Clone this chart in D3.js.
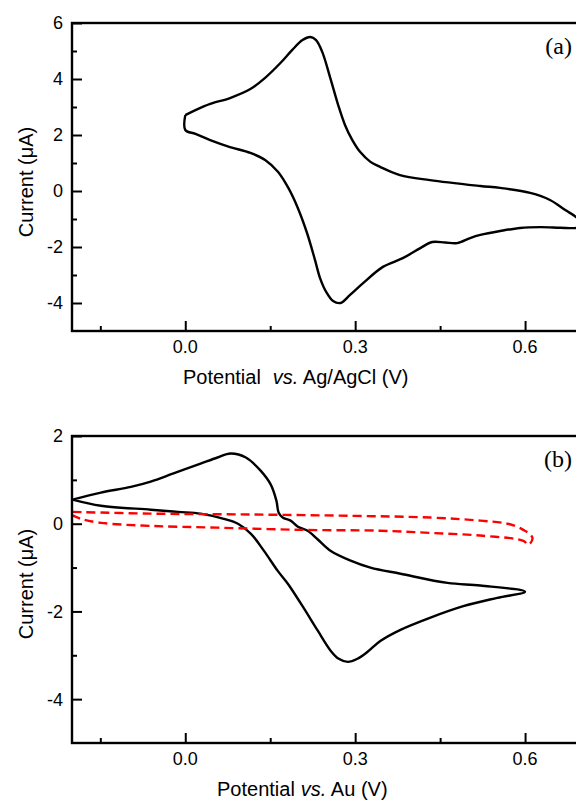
<!DOCTYPE html>
<html>
<head>
<meta charset="utf-8">
<script src="https://cdn.jsdelivr.net/npm/d3@7"></script>
<style>
  html, body { margin: 0; padding: 0; background: #fff; }
  svg { display: block; }
</style>
</head>
<body>
<div id="chart"></div>
<script>
// CV of panel (a): [potential V, current uA], in sweep order
const cvA = [
  [0.000, 2.71], [0.018, 2.89], [0.044, 3.11], [0.079, 3.32], [0.115, 3.64],
  [0.141, 4.04], [0.168, 4.57], [0.189, 5.04], [0.207, 5.39], [0.221, 5.50],
  [0.231, 5.39], [0.242, 4.96], [0.256, 4.04], [0.270, 3.07], [0.282, 2.36],
  [0.295, 1.82], [0.309, 1.39], [0.327, 1.04], [0.344, 0.86], [0.379, 0.57],
  [0.432, 0.39], [0.521, 0.18], [0.556, 0.11], [0.609, -0.07], [0.644, -0.32],
  [0.671, -0.68], [0.690, -0.93], [0.698, -1.10], [0.700, -1.25], [0.690, -1.32],
  [0.662, -1.31], [0.627, -1.29], [0.591, -1.32], [0.556, -1.43], [0.521, -1.57],
  [0.503, -1.68], [0.480, -1.86], [0.459, -1.84], [0.436, -1.82], [0.415, -2.04],
  [0.385, -2.39], [0.349, -2.71], [0.314, -3.29], [0.291, -3.71], [0.274, -4.00],
  [0.261, -3.93], [0.249, -3.61], [0.238, -3.11], [0.229, -2.46], [0.215, -1.50],
  [0.198, -0.57], [0.182, 0.11], [0.164, 0.68], [0.141, 1.11], [0.115, 1.36],
  [0.079, 1.57], [0.044, 1.82], [0.018, 2.04], [0.000, 2.18], [0.000, 2.71]
];

// CV of panel (b), solid black loop
const cvB = [
  [-0.199, 0.55], [-0.149, 0.71], [-0.096, 0.84], [-0.061, 0.96], [-0.022, 1.14],
  [0.027, 1.37], [0.057, 1.51], [0.080, 1.60], [0.107, 1.51], [0.133, 1.21],
  [0.151, 0.89], [0.161, 0.52], [0.165, 0.25], [0.172, 0.14], [0.186, 0.07],
  [0.199, -0.07], [0.216, -0.16], [0.234, -0.36], [0.257, -0.62], [0.292, -0.84],
  [0.327, -1.00], [0.380, -1.14], [0.463, -1.35], [0.521, -1.41], [0.600, -1.55],
  [0.551, -1.69], [0.491, -1.88], [0.433, -2.14], [0.380, -2.42], [0.345, -2.67],
  [0.322, -2.92], [0.304, -3.08], [0.287, -3.15], [0.271, -3.08], [0.257, -2.90],
  [0.234, -2.44], [0.209, -1.92], [0.186, -1.46], [0.177, -1.30], [0.163, -1.07],
  [0.139, -0.62], [0.116, -0.23], [0.093, 0.00], [0.068, 0.11], [0.027, 0.23],
  [-0.013, 0.27], [-0.061, 0.32], [-0.149, 0.41], [-0.199, 0.55]
];

// CV of panel (b), red dashed background
const bgB = [
  [-0.199, 0.27], [-0.061, 0.23], [0.116, 0.21], [0.292, 0.18], [0.433, 0.14],
  [0.521, 0.07], [0.569, 0.00], [0.597, -0.14], [0.613, -0.32], [0.606, -0.48],
  [0.597, -0.39], [0.521, -0.27], [0.433, -0.21], [0.345, -0.16], [0.204, -0.14],
  [0.057, -0.09], [-0.061, -0.05], [-0.149, 0.02], [-0.184, 0.11], [-0.199, 0.19]
];

const xMajor = [0.0, 0.3, 0.6];
const xMinor = [-0.15, 0.15, 0.45];
const yMajorA = [-4, -2, 0, 2, 4, 6];
const yMinorA = [-3, -1, 1, 3, 5];
const yMajorB = [-4, -2, 0, 2];
const yMinorB = [-3, -1, 1];

const width = 576, height = 803;
const sans = '"Liberation Sans", Arial, sans-serif';
const serif = '"Liberation Serif", "Times New Roman", serif';

const svg = d3.select('#chart')
  .append('svg')
  .attr('width', width)
  .attr('height', height);

function panel(opts) {
  const x = d3.scaleLinear().domain([-0.2, 0.7]).range([72, 581.7]);
  const y = d3.scaleLinear().domain(opts.yDomain).range([opts.bottom, opts.top]);
  const g = svg.append('g');

  const line = d3.line()
    .x(d => x(d[0]))
    .y(d => y(d[1]))
    .curve(d3.curveCatmullRom.alpha(0.5));

  opts.series.forEach(s => {
    g.append('path')
      .attr('d', line(s.data))
      .attr('fill', 'none')
      .attr('stroke', s.color)
      .attr('stroke-width', 2.4)
      .attr('stroke-dasharray', s.dash || null)
      .attr('stroke-linejoin', 'round');
  });

  // frame
  g.append('rect')
    .attr('x', x.range()[0])
    .attr('y', opts.top)
    .attr('width', x.range()[1] - x.range()[0])
    .attr('height', opts.bottom - opts.top)
    .attr('fill', 'none')
    .attr('stroke', '#000')
    .attr('stroke-width', 2.4);

  // inward ticks
  const xAxis = d3.axisTop(x).tickValues(xMajor).tickSize(10).tickFormat('');
  const xAxisMinor = d3.axisTop(x).tickValues(xMinor).tickSize(5).tickFormat('');
  const yAxis = d3.axisRight(y).tickValues(opts.yMajor).tickSize(10).tickFormat('');
  const yAxisMinor = d3.axisRight(y).tickValues(opts.yMinor).tickSize(5).tickFormat('');

  [[xAxis, `translate(0,${opts.bottom})`], [xAxisMinor, `translate(0,${opts.bottom})`],
   [yAxis, `translate(${x.range()[0]},0)`], [yAxisMinor, `translate(${x.range()[0]},0)`]]
    .forEach(([ax, tr]) => {
      const a = g.append('g').attr('transform', tr).call(ax);
      a.select('.domain').remove();
      a.selectAll('line').attr('stroke', '#000').attr('stroke-width', 2);
    });

  // tick labels
  g.selectAll('.xl')
    .data(xMajor)
    .join('text')
    .attr('x', d => x(d))
    .attr('y', opts.bottom + 22)
    .attr('text-anchor', 'middle')
    .style('font', `18px ${sans}`)
    .text(d3.format('.1f'));

  g.selectAll('.yl')
    .data(opts.yMajor)
    .join('text')
    .attr('x', 63)
    .attr('y', d => y(d))
    .attr('dy', '0.36em')
    .attr('text-anchor', 'end')
    .style('font', `18px ${sans}`)
    .text(d => d);

  // axis titles
  g.append('text')
    .attr('transform', `translate(33,${opts.yTitleY}) rotate(-90)`)
    .attr('text-anchor', 'middle')
    .style('font', `20px ${sans}`)
    .text('Current (μA)');

  const t = g.append('text')
    .attr('x', opts.xTitleX)
    .attr('y', opts.bottom + 53)
    .style('font', `20px ${sans}`);
  t.append('tspan').text('Potential');
  t.append('tspan').attr('dx', opts.gap).style('font-style', 'italic').text('vs.');
  t.append('tspan').text(' ' + opts.ref + ' (V)');

  g.append('text')
    .attr('x', 572)
    .attr('y', opts.top + 31)
    .attr('text-anchor', 'end')
    .style('font', `24px ${serif}`)
    .text(opts.tag);
}

panel({
  top: 23, bottom: 331, yDomain: [-5, 6],
  yMajor: yMajorA, yMinor: yMinorA,
  series: [{ data: cvA, color: '#000' }],
  yTitleY: 182, xTitleX: 183, gap: 12, ref: 'Ag/AgCl', tag: '(a)'
});

panel({
  top: 436, bottom: 743, yDomain: [-5, 2],
  yMajor: yMajorB, yMinor: yMinorB,
  series: [{ data: cvB, color: '#000' }, { data: bgB, color: '#ff0000', dash: '9,5' }],
  yTitleY: 584, xTitleX: 217, gap: 6, ref: 'Au', tag: '(b)'
});
</script>
</body>
</html>
